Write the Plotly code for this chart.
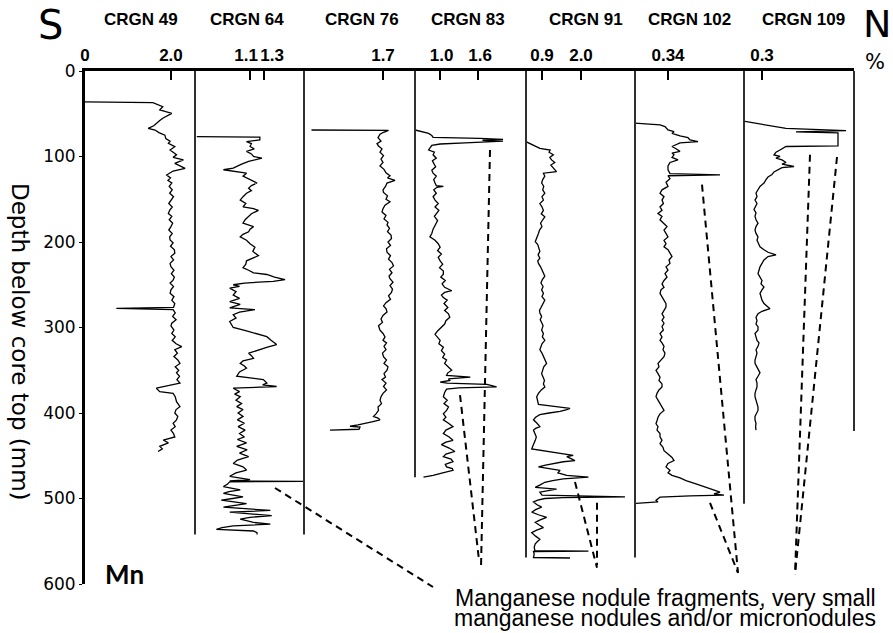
import plotly.graph_objects as go

W, H = 893, 633

# ---------------- data (depth mm, Mn %) ----------------
core_names = ["CRGN 49", "CRGN 64", "CRGN 76", "CRGN 83", "CRGN 91", "CRGN 102", "CRGN 109"]

crgn49 = [(36,0.0),(37,1.58),(41.7,1.81),(45.6,1.74),(49.5,2.02),(52,1.92),(55,1.82),(58,1.74),(61,1.66),(64,1.60),(67,1.47),(69,1.63),(72,1.72),(75,1.86),(79,1.88),(82,1.98),(84.6,1.94),(88.5,2.09),(92.4,1.98),(95,2.06),(98,2.13),(101,2.05),(104,2.29),(108,2.09),(111,2.20),(113.8,2.33),(117,2.05),(121.6,1.90),(125,1.99),(128,1.93),(131,2.02),(135,1.96),(139,2.03),(143,1.97),(147,2.06),(151,2.01),(155,1.95),(159,2.03),(163,1.97),(166.7,1.94),(170,2.02),(174,1.96),(178,2.04),(182,2.0),(186,1.95),(190,2.03),(194,1.97),(197.7,1.98),(201,2.05),(205,1.99),(209,2.08),(213,2.09),(217,2.0),(221,2.06),(225,1.98),(229,2.0),(233,2.07),(237,2.01),(241,2.08),(244.6,2.05),(248,1.98),(252,2.06),(256,2.0),(260,1.98),(264,2.07),(268,2.02),(272,2.09),(276.5,2.06),(277.6,0.73),(279,2.05),(283,2.1),(287,2.04),(291,2.12),(295,2.02),(298,2.0),(303,2.07),(307,2.02),(311,2.1),(315,2.03),(319,2.12),(322.4,2.25),(326,2.09),(330,2.15),(334,2.07),(338,2.16),(342,2.21),(346,2.1),(350,2.18),(353,2.13),(357,2.2),(361,2.14),(365,2.21),(368,1.9),(371,1.66),(375,1.74),(377,2.05),(381,2.1),(386.7,2.13),(392.6,2.21),(396,2.12),(400,2.09),(404,2.16),(408,2.13),(412,2.05),(416,2.1),(420,2.0),(424,2.06),(428,2.09),(431.6,1.82),(435,1.94),(439,1.74),(442,1.80),(445,1.70)]

crgn64 = [(76.8,0.34),(77.3,1.24),(80.6,1.24),(82.5,1.05),(85,1.12),(88.3,1.1),(91,1.16),(94,1.05),(97,1.12),(100,1.15),(102,1.27),(105.8,1.08),(109,0.98),(113.6,0.86),(115.5,0.72),(117.5,0.86),(119.5,1.05),(123,1.0),(127,1.1),(131,1.2),(134,1.12),(137,1.08),(140,1.12),(143,1.05),(147,1.0),(151,0.96),(155,1.04),(159,1.0),(161,1.15),(163,1.22),(167,1.12),(170.5,1.08),(174,1.03),(178,1.0),(182,1.15),(185,1.1),(188,1.08),(191,1.0),(194,0.96),(198,1.05),(202,1.1),(206,1.17),(211,1.14),(216,1.22),(219,1.12),(222,1.05),(226,1.04),(230,1.0),(233,1.08),(236,1.15),(238,1.34),(241,1.45),(244,1.6),(246,1.43),(248,1.02),(250,0.86),(252,0.95),(254,0.81),(258,0.9),(262,0.86),(266,0.95),(269.6,0.81),(273,0.96),(277,0.81),(279,1.17),(282,0.95),(285,0.86),(289,0.9),(293,0.81),(297,0.84),(300,0.86),(304,1.05),(307,1.2),(310.7,1.34),(315,1.4),(320,1.48),(323,1.35),(326,1.24),(330,1.08),(333,1.12),(336,1.15),(339,1.0),(342,0.96),(345,1.02),(347.6,1.05),(352,0.95),(357,0.91),(361,1.29),(365,1.34),(367,1.28),(369,1.48),(371,0.86),(375,0.95),(378,0.88),(381,0.96),(385,0.9),(389,0.98),(392.6,0.91),(396,1.0),(400,0.93),(404,1.0),(408,0.92),(412,1.02),(416,0.93),(420,1.03),(424,0.95),(428,1.02),(431,0.92),(435,1.05),(439,0.91),(443,1.06),(447,0.95),(451,1.08),(455,0.92),(459,0.86),(463,1.0),(466.7,1.05),(470,0.9),(474,0.81),(478,1.1),(479.5,0.81),(480,1.87),(480.5,0.81),(483,0.78),(486,0.72),(490,0.96),(492,0.8),(494,0.72),(498,1.0),(500,0.85),(502,0.69),(506,1.05),(508,0.85),(510,0.72),(514,1.39),(516,0.81),(520,1.41),(522,1.1),(524,0.96),(528,1.15),(530,1.39),(532,0.86),(534,0.7),(536,0.62),(538,1.15),(540,1.2),(542,1.2)]

crgn76 = [(69,0.27),(69.5,1.81),(72,1.70),(74,1.64),(78,1.60),(82,1.66),(85,1.58),(87.7,1.61),(91,1.68),(95,1.64),(99,1.71),(103,1.66),(107,1.70),(111,1.64),(115,1.72),(119,1.76),(122.6,1.84),(125,1.79),(128,1.94),(131,1.78),(135,1.75),(139,1.70),(142,1.71),(146,1.79),(150,1.76),(153,1.84),(157,1.74),(161,1.70),(165,1.68),(169,1.76),(173,1.72),(177,1.80),(180,1.78),(184,1.83),(188,1.79),(192,1.86),(196,1.87),(200,1.80),(204,1.85),(208,1.77),(212,1.78),(216,1.85),(220,1.81),(224,1.88),(228,1.91),(232,1.83),(236,1.88),(240,1.82),(243,1.84),(247,1.90),(251,1.84),(255,1.89),(259,1.87),(263,1.81),(267,1.85),(271,1.76),(274.7,1.71),(278,1.76),(282,1.78),(286,1.70),(290,1.66),(294,1.69),(298,1.61),(303,1.64),(307,1.70),(311,1.74),(315,1.70),(318,1.77),(322,1.72),(326,1.76),(330,1.69),(334,1.71),(338,1.77),(342,1.72),(346,1.80),(350,1.78),(354,1.72),(358,1.75),(361,1.68),(365,1.76),(369,1.71),(373,1.77),(377,1.70),(381,1.66),(385,1.64),(389,1.67),(393,1.60),(397,1.61),(401,1.56),(404,1.51),(406,1.60),(408,1.64),(410,1.50),(412,1.37),(414,1.20),(415.5,1.04),(416.5,1.24),(419,1.22),(420,0.64)]

crgn83 = [(69,0.62),(71,0.72),(73,0.83),(75.5,0.88),(77.6,0.90),(78.8,1.63),(80,1.99),(81,1.67),(82,1.99),(84,1.40),(85.4,1.01),(87,0.88),(92.4,0.83),(95,0.92),(98,0.90),(102,0.95),(105,0.89),(108,0.91),(112,0.94),(116,0.88),(119.5,0.90),(123,0.95),(127,0.91),(131,0.93),(134,0.95),(135,1.06),(136,0.96),(139,0.91),(143,0.95),(147,0.90),(151,0.93),(155,0.98),(159,0.93),(163,0.99),(166.7,0.96),(170,0.92),(175,0.97),(180,0.93),(185,0.90),(190,0.88),(194,0.85),(198,0.93),(202,0.98),(206,1.01),(210,0.97),(214,1.03),(218,0.98),(222,1.01),(226,1.05),(230,1.0),(234,1.06),(237.6,1.06),(241,1.02),(245,1.09),(249,1.04),(253,1.08),(257,1.19),(259,1.08),(262,1.03),(265,1.06),(268,1.12),(272,1.07),(276.7,1.13),(280,1.08),(284,1.14),(288,1.16),(292,1.10),(296,1.08),(300,1.02),(304,0.97),(308,0.93),(311,0.96),(315,1.01),(319,0.99),(323,1.06),(327,1.03),(331,1.08),(335,1.05),(338,1.11),(342,1.08),(346,1.14),(350,1.19),(353,1.13),(356,1.11),(358,1.48),(360,1.14),(362,1.16),(364,1.01),(365,1.12),(366.5,1.74),(369.5,1.89),(370.5,1.30),(372,1.11),(376,1.08),(381,1.06),(385,1.12),(389,1.07),(393,1.14),(397,1.11),(401,1.06),(405,1.10),(408,1.06),(412,1.14),(416,1.21),(420,1.10),(424,1.06),(428,1.15),(432,1.21),(434,1.10),(437,1.03),(441,1.15),(445,1.24),(448,1.10),(451,1.06),(454,1.18),(457,1.21),(460,1.09),(463,1.11),(465,1.20),(467,1.21),(470,1.05),(473,0.90),(475,0.75)]

crgn91 = [(82.7,0.45),(86,0.62),(90.4,0.84),(92.4,1.13),(95,1.10),(98,1.22),(101,1.12),(104,1.17),(107,1.26),(110,1.15),(114,1.22),(117.7,1.31),(119.5,0.94),(123,0.98),(127,0.92),(131,0.89),(135,0.95),(139,0.92),(143,0.98),(147,0.90),(151,0.94),(155,0.84),(159,0.90),(163,0.94),(167,0.88),(170.5,0.98),(174,0.92),(178,0.86),(182,0.90),(186,0.83),(190,0.80),(194,0.76),(197,0.73),(199.6,0.71),(203,0.78),(207,0.82),(211,0.84),(215,0.79),(219,0.84),(222,0.78),(225,0.80),(229,0.86),(233,0.90),(237,0.94),(240,0.98),(244,0.91),(248,0.87),(252,0.93),(256,0.89),(260,0.94),(264,0.90),(268,0.98),(272,0.92),(276,0.88),(280,0.83),(283,0.84),(287,0.89),(291,0.85),(295,0.90),(298,0.93),(303,0.89),(307,0.94),(311,0.91),(315,0.98),(319,0.90),(323,0.86),(326,0.84),(330,0.90),(334,0.95),(338,0.99),(342,1.03),(346,0.95),(350,0.91),(354,0.89),(358,0.93),(362,0.97),(366,0.94),(369.6,0.98),(373,0.88),(377,0.80),(381,0.75),(385,0.78),(390,0.80),(392.5,1.30),(394.6,1.69),(396,1.60),(398,1.41),(400,1.10),(402,0.84),(405,0.72),(408,0.66),(412,0.76),(416,0.84),(418,0.72),(420,0.66),(424,0.70),(428,0.74),(432,0.71),(436,0.68),(439,0.64),(442,0.61),(444,0.94),(446,1.30),(447.6,1.50),(449.6,1.78),(451,1.60),(453,1.69),(455.6,1.83),(457,1.50),(459,1.22),(461,1.00),(463,0.80),(465,1.10),(467,1.41),(470,1.35),(473,1.60),(475,2.21),(476,1.70),(477,1.50),(479,1.20),(481,0.98),(484,0.85),(487,0.71),(489,1.31),(491,1.00),(492.6,0.84),(496,0.90),(498,3.24),(499,1.50),(500,0.98),(502,0.78),(504,0.66),(507,0.75),(510,0.89),(513,0.72),(516,0.61),(519,0.80),(522,1.03),(525,0.85),(528,0.71),(531,0.82),(534,0.94),(537,0.75),(540,0.61),(544,0.72),(547.6,0.84),(550,0.78),(553,0.71),(557,0.68),(561,0.70),(561.5,2.21),(562,0.66),(565,0.68),(569,0.66),(569.6,1.69)]

crgn102 = [(61,0.175),(63,0.30),(65,0.325),(69,0.34),(71,0.37),(73,0.36),(76,0.40),(78,0.44),(80.6,0.45),(82.5,0.49),(84,0.40),(86,0.38),(88.3,0.36),(91,0.38),(94,0.40),(96,0.36),(98,0.37),(101,0.36),(104,0.39),(107,0.35),(111,0.34),(115.5,0.34),(120,0.35),(121.6,0.60),(122.5,0.34),(126,0.35),(130,0.33),(135,0.34),(139,0.31),(143,0.30),(147,0.32),(151,0.31),(155,0.317),(159,0.30),(163,0.31),(166.7,0.29),(170,0.31),(174,0.30),(178,0.32),(182,0.335),(186,0.32),(190,0.33),(194,0.34),(198,0.32),(202,0.33),(205.6,0.32),(209,0.34),(213,0.35),(217,0.36),(221,0.345),(225,0.35),(229,0.33),(233,0.34),(237,0.325),(241,0.335),(245,0.32),(249,0.31),(253,0.32),(256,0.305),(260,0.30),(264,0.31),(268,0.32),(272,0.33),(276,0.33),(280,0.32),(284,0.31),(288,0.32),(291.6,0.31),(295,0.32),(299,0.31),(303,0.317),(307,0.30),(311,0.31),(315,0.30),(318,0.31),(322,0.32),(326,0.315),(330,0.325),(334,0.32),(338,0.305),(342,0.29),(346,0.295),(350,0.28),(354,0.29),(358,0.30),(362,0.295),(366,0.31),(369.6,0.31),(373,0.295),(377,0.285),(381,0.28),(385,0.29),(389,0.30),(393,0.31),(397,0.32),(401,0.30),(405,0.29),(409,0.285),(412.6,0.28),(416,0.29),(420,0.285),(424,0.30),(428,0.30),(432,0.31),(436,0.30),(440,0.315),(444,0.32),(448,0.34),(452,0.36),(455.6,0.37),(459,0.34),(463,0.33),(467,0.35),(470,0.34),(473,0.36),(476,0.40),(479,0.43),(483,0.48),(487,0.53),(490,0.57),(492.6,0.60),(494.5,0.57),(496,0.62),(497,0.45),(498.5,0.30),(502,0.28),(504,0.29),(505.6,0.18)]

crgn109 = [(59,0.215),(63,0.32),(67,0.42),(69.8,0.72),(71.3,0.47),(72.3,0.68),(87.5,0.68),(88.3,0.42),(90,0.41),(92.4,0.39),(95,0.37),(98,0.36),(100,0.39),(102,0.37),(104,0.40),(107,0.42),(109,0.40),(111.7,0.46),(113,0.40),(115.5,0.38),(118,0.36),(121,0.35),(124,0.33),(127,0.32),(131,0.31),(135,0.29),(139,0.28),(142.7,0.27),(147,0.275),(151,0.265),(155,0.275),(158,0.27),(162,0.26),(166,0.27),(170,0.265),(174,0.27),(178,0.28),(182,0.27),(186,0.265),(190,0.27),(194,0.28),(198,0.275),(202,0.285),(205.6,0.29),(209,0.31),(212,0.33),(215,0.37),(217,0.33),(221,0.31),(225,0.30),(229,0.29),(233,0.285),(237,0.28),(241,0.29),(245,0.30),(249,0.295),(252.6,0.31),(256,0.30),(260,0.29),(264,0.295),(268,0.30),(272,0.31),(275,0.325),(278,0.34),(281,0.30),(284,0.28),(288,0.27),(292,0.275),(296,0.27),(299,0.28),(303,0.28),(307,0.265),(311,0.27),(315,0.275),(318,0.285),(322,0.28),(326,0.27),(330,0.275),(334,0.27),(338,0.265),(342,0.265),(346,0.275),(350,0.285),(353,0.29),(357,0.28),(361,0.27),(365,0.275),(369.6,0.275),(373,0.27),(377,0.265),(381,0.265),(385,0.27),(389,0.275),(393,0.28),(397,0.28),(401,0.27),(404,0.265),(408,0.265),(412,0.27),(416,0.268),(420,0.27)]

core_profiles = [crgn49, crgn64, crgn76, crgn83, crgn91, crgn102, crgn109]
core_lengths = [445, 542, 420, 475, 569, 506, 421]

# top-axis ticks per core (CRGN 64 has a second tick on an overlay axis)
tick_values = [[0, 2.0], [1.1], [1.7], [1.0, 1.6], [0.9, 2.0], [0.34], [0.3]]
tick_labels = [["0", "2.0"], ["1.1"], ["1.7"], ["1.0", "1.6"], ["0.9", "2.0"], ["0.34"], ["0.3"]]
extra_tick_64 = [1.3]
extra_label_64 = ["1.3"]
x_ranges = [[0.0, 2.56], [0.314, 1.871], [0.12, 2.34], [0.618, 2.348], [0.449, 3.523], [0.175, 0.72], [0.21, 0.76]]

depth_ticks = [0, 100, 200, 300, 400, 500, 600]

note_lines = ["Manganese nodule fragments, very small", "manganese nodules and/or micronodules"]

# ---------------- layout geometry ----------------
panel_edges_px = [85, 195, 304, 415, 526, 635, 744, 854]
label_shift_px = [0, -4, 0, 2, 0, 0, 0]
Y_TOP_PX, Y_BOT_PX = 71, 584
Y_DOM = [1 - Y_BOT_PX / H, 1 - Y_TOP_PX / H]


def px_x(px):
    return px / W


def px_y(py):
    return 1 - py / H


def depth_to_py(d):
    return Y_TOP_PX + d * (Y_BOT_PX - Y_TOP_PX) / 600.0


BOLDF = "Liberation Sans, Arial, sans-serif"
ROUND = "DejaVu Sans, Noto Sans, sans-serif"

fig = go.Figure()

for i, prof in enumerate(core_profiles):
    depth = [p[0] for p in prof]
    mn = [p[1] for p in prof]
    xa = "x" if i == 0 else f"x{i+1}"
    fig.add_trace(go.Scatter(x=mn, y=depth, mode="lines", xaxis=xa, yaxis="y",
                             line=dict(color="black", width=1.3), hoverinfo="skip",
                             showlegend=False))
# empty trace so the overlay axis of CRGN 64 gets drawn
fig.add_trace(go.Scatter(x=[None], y=[None], xaxis="x8", yaxis="y", mode="lines",
                         hoverinfo="skip", showlegend=False))

layout = dict(width=W, height=H, margin=dict(l=0, r=0, t=0, b=0),
              paper_bgcolor="white", plot_bgcolor="white", showlegend=False)


def top_axis(i, vals, texts, shift, **extra):
    d = dict(
        domain=[px_x(panel_edges_px[i]), px_x(panel_edges_px[i + 1])],
        range=x_ranges[i], anchor="y", side="top",
        showline=True, linewidth=3, linecolor="black",
        ticks="inside", ticklen=9, tickwidth=1.5, tickcolor="black",
        tickmode="array", tickvals=vals, ticktext=texts,
        tickangle=0, ticklabelshift=shift,
        tickfont=dict(family=BOLDF, size=17, color="black", weight="bold"),
        showgrid=False, zeroline=False, automargin=False, fixedrange=True,
    )
    d.update(extra)
    return d


for i in range(7):
    key = "xaxis" if i == 0 else f"xaxis{i+1}"
    layout[key] = top_axis(i, tick_values[i], tick_labels[i], label_shift_px[i])
layout["xaxis8"] = top_axis(1, extra_tick_64, extra_label_64, 8, overlaying="x2")

layout["yaxis"] = dict(
    domain=Y_DOM, range=[600, 0], anchor="x", side="left",
    showline=True, linewidth=3, linecolor="black",
    tickmode="array", tickvals=depth_ticks,
    ticks="outside", ticklen=3, tickcolor="black",
    tickfont=dict(family=ROUND, size=17, color="black"),
    showgrid=False, zeroline=False, automargin=False, fixedrange=True,
)

shapes = []
# panel side lines down to each core's base
for i, L in enumerate(core_lengths):
    for e in (panel_edges_px[i], panel_edges_px[i + 1]):
        if e == panel_edges_px[0]:
            continue
        shapes.append(dict(type="line", xref="paper", yref="y",
                           x0=px_x(e), x1=px_x(e), y0=0, y1=L,
                           line=dict(color="#303030", width=2)))

# dashed leader lines: (x0_px, depth0, x1_px, depth1)
leaders = [
    (275, 487.7, 433, 603.5),
    (490, 92.4, 481, 581),
    (460, 379, 479, 572),
    (575, 480.7, 597, 581),
    (597, 505, 597, 578),
    (702, 133, 738, 587),
    (710, 505, 738, 587),
    (810, 98, 795, 589),
    (837, 100.6, 795, 589),
]
for x0, d0, x1, d1 in leaders:
    shapes.append(dict(type="line", xref="paper", yref="paper",
                       x0=px_x(x0), y0=px_y(depth_to_py(d0)),
                       x1=px_x(x1), y1=px_y(depth_to_py(d1)),
                       line=dict(color="black", width=2, dash="7px,5px")))
layout["shapes"] = shapes

title_px = [141, 247, 362, 468, 586, 689, 803]
ann = []
for name, cx in zip(core_names, title_px):
    ann.append(dict(text=f"<b>{name}</b>", x=px_x(cx), y=px_y(20), xref="paper", yref="paper",
                    showarrow=False, xanchor="center", yanchor="middle",
                    font=dict(family=BOLDF, size=17, color="black")))
ann += [
    dict(text="S", x=px_x(50), y=px_y(25), xref="paper", yref="paper", showarrow=False,
         xanchor="center", yanchor="middle", font=dict(family=ROUND, size=40, color="black")),
    dict(text="N", x=px_x(877), y=px_y(24), xref="paper", yref="paper", showarrow=False,
         xanchor="center", yanchor="middle", font=dict(family=ROUND, size=38, color="black")),
    dict(text="%", x=px_x(875), y=px_y(62), xref="paper", yref="paper", showarrow=False,
         xanchor="center", yanchor="middle", font=dict(family=ROUND, size=21, color="black")),
    dict(text="<b>Mn</b>", x=px_x(124), y=px_y(574), xref="paper", yref="paper", showarrow=False,
         xanchor="center", yanchor="middle", font=dict(family="Lato, sans-serif", size=26, color="black")),
    dict(text="Depth below core top (mm)", x=px_x(20), y=px_y(342), xref="paper", yref="paper",
         showarrow=False, textangle=90, xanchor="center", yanchor="middle",
         font=dict(family=ROUND, size=23, color="black")),
    dict(text=note_lines[0], x=px_x(665), y=px_y(613), xref="paper", yref="paper",
         showarrow=False, xanchor="center", yanchor="bottom",
         font=dict(family=BOLDF, size=23, color="black")),
    dict(text=note_lines[1], x=px_x(665), y=px_y(633), xref="paper", yref="paper",
         showarrow=False, xanchor="center", yanchor="bottom",
         font=dict(family=BOLDF, size=23, color="black")),
]
layout["annotations"] = ann

fig.update_layout(**layout)
fig.write_html("out.html")
